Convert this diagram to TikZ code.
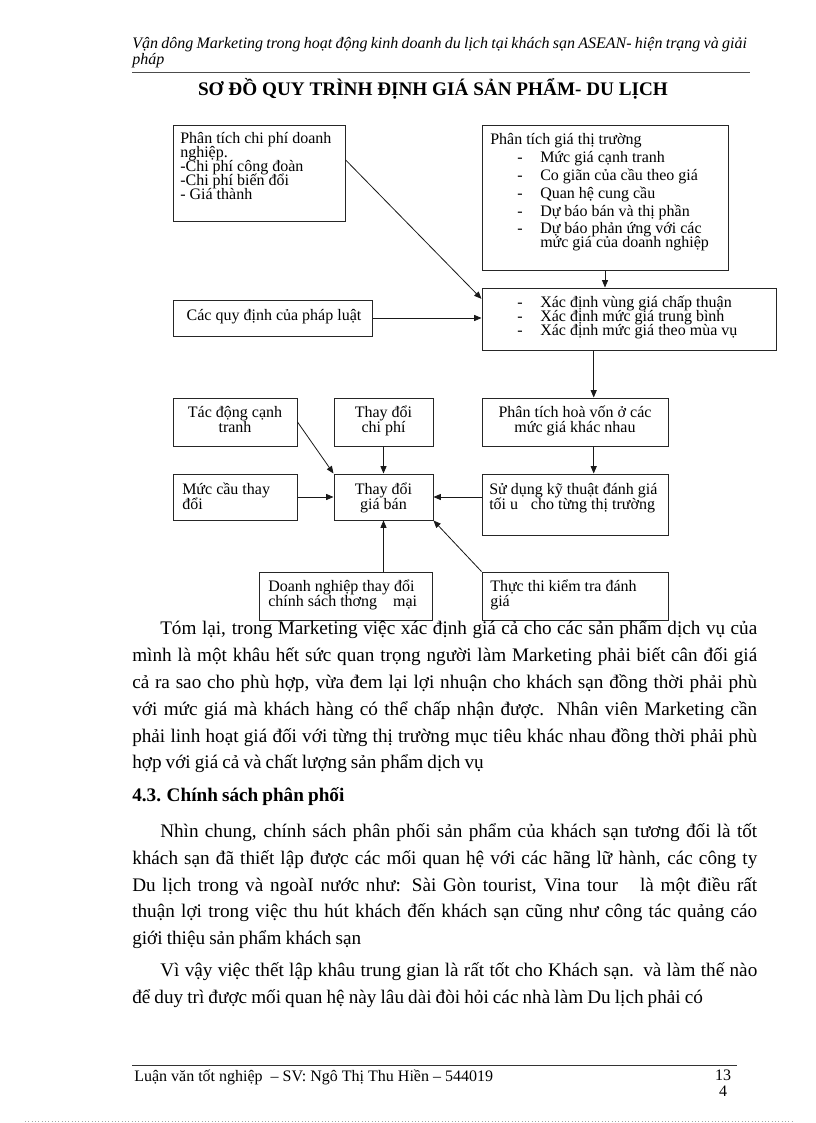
\documentclass[tikz,border=0pt]{standalone}
\usepackage{fontspec}
\setmainfont{Liberation Serif}
\newfontfamily\bodyfont{Liberation Serif}[WordSpace={0.85,1.2,1.6}]
\usetikzlibrary{arrows.meta,calc}
\newcommand{\mybox}[5]{\node[box,minimum width={(#4-#2)*0.75pt},minimum height={(#5-#3)*0.75pt}] (#1) at ({(#2+#4)/2},{(#3+#5)/2}) {};}
\newcommand{\bp}[2]{\parbox[t]{#1}{\lineskiplimit=-100pt\lineskip=0pt\baselineskip=10.5pt #2}}
\newcommand{\bq}[2]{\parbox[t]{#1}{\lineskiplimit=-100pt\lineskip=0pt\baselineskip=11.25pt #2}}
\tikzset{
 box/.style={draw=black!85,line width=0.75pt,inner sep=0pt},
 bt/.style={font={\fontsize{12}{10.5}\selectfont},inner sep=0pt,anchor=base west},
 btc/.style={font={\fontsize{12}{10.5}\selectfont},inner sep=0pt,anchor=base},
 body/.style={font={\bodyfont\fontsize{14.4}{20}\selectfont},inner sep=0pt,anchor=base west},
 arr/.style={-{Triangle[length=5.5pt,width=4.5pt]},line width=0.6pt,draw=black!90},
}
\begin{document}
\begin{tikzpicture}[x=0.75pt,y=-0.75pt]
\fill[white] (0,0) rectangle (816,1123);
\useasboundingbox (0,0) rectangle (816,1123);
% header
\node[font=\itshape\fontsize{12}{14}\selectfont,inner sep=0pt,anchor=base west] (hd1) at (132,49) {\makebox[461pt][s]{Vận dông Marketing trong hoạt động kinh doanh du lịch tại khách sạn ASEAN- hiện trạng và giải}};
\node[font=\itshape\fontsize{12}{14}\selectfont,inner sep=0pt,anchor=base west] (hd2) at (132,65) {pháp};
\coordinate (hl1) at (132,73); \coordinate (hl2) at (750,73);
\draw[line width=0.75pt,black!70] (hl1) -- (hl2);
\node[font=\bfseries\fontsize{14.4}{16}\selectfont,inner sep=0pt,anchor=base] (title) at (433,96) {SƠ ĐỒ QUY TRÌNH ĐỊNH GIÁ SẢN PHẨM- DU LỊCH};
% boxes
\mybox{A}{173}{126}{345}{222}
\mybox{B}{482}{126}{728}{270}
\mybox{C}{482}{288}{776}{350}
\mybox{Q}{173}{300}{372}{336}
\mybox{T}{173}{398}{297}{446}
\mybox{CP}{334}{398}{433}{446}
\mybox{D}{482}{398}{668}{446}
\mybox{M}{173}{474}{297}{520}
\mybox{G}{334}{474}{433}{520}
\mybox{S}{482}{474}{668}{535}
\mybox{DN}{259}{572}{432}{620}
\mybox{TT}{482}{572}{668}{620}
% texts
\node[bt] (At) at (180,144) {\bp{160pt}{Phân tích chi phí doanh\\nghiệp.\\-Chi phí công đoàn\\-Chi phí biến đổi\\- Giá thành}};
\node[bt] (Bt) at (490,145) {Phân tích giá thị trường};
\node[bt] (Bd1) at (517,162.5) {-};
\node[bt] (Bd2) at (517,180.5) {-};
\node[bt] (Bd3) at (517,198.5) {-};
\node[bt] (Bd4) at (517,216.5) {-};
\node[bt] (Bd5) at (517,233.5) {-};
\node[bt] (Bi1) at (540,162.5) {Mức giá cạnh tranh};
\node[bt] (Bi2) at (540,180.5) {Co giãn của cầu theo giá};
\node[bt] (Bi3) at (540,198.5) {Quan hệ cung cầu};
\node[bt] (Bi4) at (540,216.5) {Dự báo bán và thị phần};
\node[bt] (Bi5) at (540,233.5) {Dự báo phản ứng với các};
\node[bt] (Bi6) at (540,247.5) {mức giá của doanh nghiệp};
\node[bt] (Cd) at (517,307) {\bp{10pt}{-\\-\\-}};
\node[bt] (Ci) at (540,307) {\bp{220pt}{Xác định vùng giá chấp thuận\\Xác định mức giá trung bình\\Xác định mức giá theo mùa vụ}};
\node[btc] (Qt) at (274,320.5) {Các quy định của pháp luật};
\node[btc] (Tt) at (235,417) {\bq{120pt}{\centering Tác động cạnh\\tranh}};
\node[btc] (CPt) at (383.5,417) {\bq{100pt}{\centering Thay đổi\\chi phí}};
\node[btc] (Dt) at (575,417) {\bq{160pt}{\centering Phân tích hoà vốn ở các\\mức giá khác nhau}};
\node[bt] (Mt) at (182,494) {\bq{110pt}{Mức cầu thay\\đổi}};
\node[btc] (Gt) at (383.5,494) {\bq{100pt}{\centering Thay đổi\\giá bán}};
\node[bt] (St) at (489,494) {\bq{160pt}{Sử dụng kỹ thuật đánh giá\\tối u\hspace{0.8em}cho từng thị trường}};
\node[bt] (DNt) at (268,591) {\bq{160pt}{Doanh nghiệp thay đổi\\chính sách thơng\hspace{1em}mại}};
\node[bt] (TTt) at (490,591) {\bq{160pt}{Thực thi kiểm tra đánh\\giá}};
% connectors
\draw[arr] ($(A.north east)!0.354!(A.south east)$) -- ($(C.north west)!0.18!(C.south west)$);
\draw[arr] (B.south) -- (B.south |- C.north);
\draw[arr] (Q.east) -- (Q.east -| C.west);
\coordinate (cx) at ($(D.north west)!0.6!(D.north east)$);
\draw[arr] (cx |- C.south) -- (cx);
\draw[arr] (cx |- D.south) -- (cx |- S.north);
\draw[arr] (S.west |- G.east) -- (G.east);
\draw[arr] (M.east) -- (G.west);
\draw[arr] (T.east) -- (G.north west);
\draw[arr] (CP.south) -- (G.north);
\draw[arr] (G.south |- DN.north) -- (G.south);
\draw[arr] (TT.north west) -- (G.south east);
% body text
\node[body] (p1) at (160,634) {\makebox[447.75pt][s]{Tóm lại,  trong Marketing  việc xác định giá cả cho các sản phẩm dịch vụ của}};
\node[body] (p2) at (132,661) {\makebox[468.75pt][s]{mình là một khâu hết sức quan trọng người làm  Marketing  phải biết  cân đối giá}};
\node[body] (p3) at (132,688) {\makebox[468.75pt][s]{cả ra sao cho phù hợp, vừa đem lại lợi nhuận cho khách sạn đồng thời phải phù}};
\node[body] (p4) at (132,715) {\makebox[468.75pt][s]{với mức giá mà khách hàng có thể chấp nhận được. Nhân viên Marketing  cần}};
\node[body] (p5) at (132,742) {\makebox[468.75pt][s]{phải linh hoạt giá đối với từng thị trường mục tiêu khác nhau đồng thời phải phù}};
\node[body] (p6) at (132,768) {hợp với giá cả và chất lượng sản phẩm dịch vụ};
\node[body,font={\bodyfont\bfseries\fontsize{14.4}{20}\selectfont}] (h43) at (132,801) {4.3. Chính sách phân phối};
\node[body] (q1) at (160,837) {\makebox[447.75pt][s]{Nhìn chung, chính sách phân phối sản phẩm của khách sạn tương đối là tốt}};
\node[body] (q2) at (132,864) {\makebox[468.75pt][s]{khách sạn đã thiết lập được các mối quan hệ với các hãng lữ hành, các công ty}};
\node[body] (q3) at (132,891) {\makebox[468.75pt][s]{Du lịch trong và ngoàI nước như: Sài Gòn tourist, Vina tour\hspace{0.8em} là một điều rất}};
\node[body] (q4) at (132,917) {\makebox[468.75pt][s]{thuận lợi trong việc thu hút khách đến khách sạn cũng như công tác quảng cáo}};
\node[body] (q5) at (132,944) {giới thiệu sản phẩm khách sạn};
\node[body] (r1) at (160,976) {\makebox[447.75pt][s]{Vì vậy việc thết lập khâu trung gian là rất tốt cho Khách sạn. và làm thế nào}};
\node[body] (r2) at (132,1003) {để duy trì được mối quan hệ này lâu dài đòi hỏi các nhà làm Du lịch phải có};
% footer
\coordinate (fl1) at (132,1065); \coordinate (fl2) at (737,1065);
\draw[line width=0.75pt,black!80] (fl1) -- (fl2);
\node[font=\fontsize{12}{14}\selectfont,inner sep=0pt,anchor=base west] (ft) at (134,1081) {Luận văn tốt nghiệp\ \ – SV: Ngô Thị Thu Hiền – 544019};
\node[font=\fontsize{12}{14}\selectfont,inner sep=0pt,anchor=base] (pn1) at (723,1080) {13};
\node[font=\fontsize{12}{14}\selectfont,inner sep=0pt,anchor=base] (pn2) at (723,1096) {4};
\coordinate (dl1) at (25,1121); \coordinate (dl2) at (792,1121);
\draw[black!35,dotted,line width=0.5pt] (dl1) -- (dl2);
\end{tikzpicture}
\end{document}
